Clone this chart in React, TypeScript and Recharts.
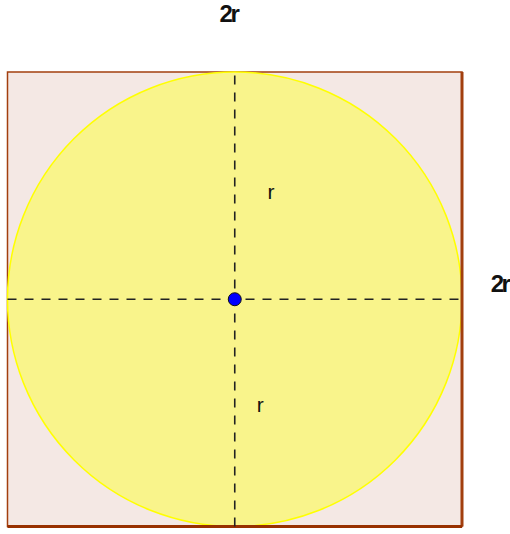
import { ScatterChart, Scatter, XAxis, YAxis, ReferenceArea, ReferenceLine, ReferenceDot } from "recharts";

// everything is in units of r, centred on the circle's centre
const axisDomain = [-1, 1];
const squareX = [-1, 1];
const squareY = [-1, 1];
const dividers = [0];
const centerPoint = [{ x: 0, y: 0 }];

const labelTexts = ["2r", "2r", "r", "r"];
const labelX = [-0.028, 1.165, 0.16, 0.112];
const labelY = [1.258, 0.069, 0.474, -0.463];

const BORDER = "#a23f0e";

const Circle = (props: any) => {
  const { x, y, width, height } = props;
  return (
    <ellipse
      cx={x + width / 2}
      cy={y + height / 2}
      rx={width / 2}
      ry={height / 2}
      fill="#f9f48b"
      stroke="#ffff00"
      strokeWidth={1.5}
    />
  );
};

const Dot = (props: any) => (
  <circle cx={props.cx} cy={props.cy} r={6.5} fill="#0000ff" stroke="#111" strokeWidth={1} />
);

export default function App() {
  return (
    <div style={{ position: "absolute", left: 0, top: 0 }}>
      <ScatterChart
        width={510}
        height={534}
        margin={{ top: 72, right: 48, bottom: 7.5, left: 7.5 }}
      >
        <XAxis type="number" dataKey="x" domain={axisDomain} hide />
        <YAxis type="number" dataKey="y" domain={axisDomain} hide />
        <ReferenceArea
          x1={squareX[0]}
          x2={squareX[1]}
          y1={squareY[0]}
          y2={squareY[1]}
          fill="#f4e8e4"
          fillOpacity={1}
          stroke={BORDER}
          strokeWidth={1.5}
        />
        <ReferenceArea
          x1={squareX[0]}
          x2={squareX[1]}
          y1={squareY[0]}
          y2={squareY[1]}
          shape={Circle}
        />
        <ReferenceLine x={squareX[1]} stroke={BORDER} strokeWidth={3} />
        <ReferenceLine y={squareY[0]} stroke="#983100" strokeWidth={3} />
        {dividers.map((v) => (
          <ReferenceLine key={`v${v}`} x={v} stroke="#222" strokeWidth={1.6} strokeDasharray="9 8" />
        ))}
        {dividers.map((v) => (
          <ReferenceLine key={`h${v}`} y={v} stroke="#222" strokeWidth={1.6} strokeDasharray="9 8" />
        ))}
        {labelTexts.map((t, i) => (
          <ReferenceDot
            key={`l${i}`}
            x={labelX[i]}
            y={labelY[i]}
            r={0}
            fillOpacity={0}
            strokeOpacity={0}
            ifOverflow="visible"
            label={{
              value: t,
              position: "center",
              fill: "#111",
              fontSize: t === "2r" ? 24 : 21,
              fontWeight: t === "2r" ? "bold" : "normal",
              fontFamily: "Liberation Sans, Arial, sans-serif",
              letterSpacing: t === "2r" ? -2.5 : 0,
            }}
          />
        ))}
        <Scatter data={centerPoint} shape={Dot} isAnimationActive={false} />
      </ScatterChart>
    </div>
  );
}
